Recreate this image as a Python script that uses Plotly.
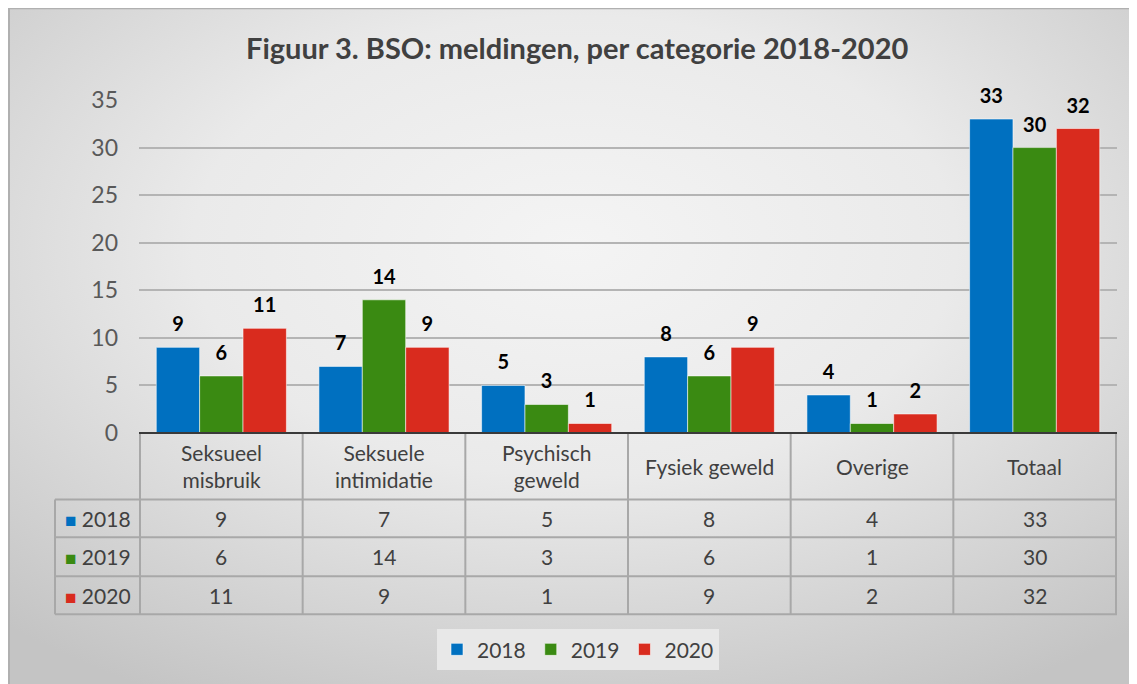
import base64

import plotly.graph_objects as go

categories = ["Seksueel misbruik", "Seksuele intimidatie", "Psychisch geweld",
              "Fysiek geweld", "Overige", "Totaal"]
header_labels = ["Seksueel<br>misbruik", "Seksuele<br>intimidatie", "Psychisch<br>geweld",
                 "Fysiek geweld", "Overige", "Totaal"]
years = ["2018", "2019", "2020"]
values_2018 = [9, 7, 5, 8, 4, 33]
values_2019 = [6, 14, 3, 6, 1, 30]
values_2020 = [11, 9, 1, 9, 2, 32]
y_ticks = [0, 5, 10, 15, 20, 25, 30, 35]

series = [values_2018, values_2019, values_2020]
colors = ["#0070C0", "#3A8A12", "#D92B1E"]

# the page body adds an 8px margin, so the figure is drawn 8px smaller and
# all positions below are given in screen pixels and shifted back
OFF = 8
W, H = 1137 - OFF, 684 - OFF
PX_L, PX_R, PX_T, PX_B = 139, 1117, 100, 433.5
L, R = PX_L - OFF, W - (PX_R - OFF)
T, B = PX_T - OFF, H - (PX_B - OFF)
PW, PH = W - L - R, H - T - B
FONT = "Lato"
TXT = "#404040"
GRID = "#A8A8A8"


def px_x(px):
    return (px - PX_L) / PW


def px_y(py):
    return (PX_B - py) / PH


def txt_font(size, color=TXT):
    return dict(family=FONT, size=size, color=color)


fig = go.Figure()

for name, vals, col in zip(years, series, colors):
    fig.add_trace(go.Bar(
        x=categories, y=vals, name=name,
        marker=dict(color=col, line=dict(color="rgba(255,255,255,0.55)", width=1)),
        hoverinfo="skip",
    ))

# data labels sitting above the bars
for name, vals in zip(years, series):
    fig.add_trace(go.Scatter(
        x=categories, y=vals, mode="markers+text", text=[str(v) for v in vals],
        textposition="top center",
        textfont=dict(family=FONT, size=20, color="#000000", weight="bold"),
        marker=dict(size=16, opacity=0),
        showlegend=False, hoverinfo="skip", cliponaxis=False,
    ))

# radial grey background
svg = (
    '<svg xmlns="http://www.w3.org/2000/svg" width="1128" height="677" preserveAspectRatio="none">'
    '<defs><radialGradient id="g" cx="50%" cy="35%" r="75%">'
    '<stop offset="0" stop-color="#F4F4F4"/><stop offset="0.45" stop-color="#EAEAEA"/>'
    '<stop offset="1" stop-color="#C4C4C4"/></radialGradient></defs>'
    '<rect width="1128" height="677" fill="url(#g)"/></svg>'
)
src = "data:image/svg+xml;base64," + base64.b64encode(svg.encode()).decode()
fig.add_layout_image(dict(
    source=src, xref="paper", yref="paper", x=px_x(9), y=px_y(7),
    sizex=px_x(1140) - px_x(9), sizey=px_y(7) - px_y(690),
    xanchor="left", yanchor="top", sizing="stretch", layer="below",
))

shapes = []
# outer chart border
shapes.append(dict(type="rect", xref="paper", yref="paper", x0=px_x(9), x1=px_x(1145),
                   y0=px_y(695), y1=px_y(8), line=dict(color="#B0B0B0", width=2)))

# data table grid
row_edges = [433.5, 500, 538, 577, 615]
n = len(categories)
for k in range(n + 1):
    shapes.append(dict(type="line", xref="x", yref="paper", x0=k - 0.5, x1=k - 0.5,
                       y0=px_y(433.5), y1=px_y(615), line=dict(color=GRID, width=2)))
shapes.append(dict(type="line", xref="paper", yref="paper", x0=px_x(55), x1=px_x(55),
                   y0=px_y(500), y1=px_y(615), line=dict(color=GRID, width=2)))
for py in row_edges[1:]:
    shapes.append(dict(type="line", xref="paper", yref="paper", x0=px_x(55), x1=1,
                       y0=px_y(py), y1=px_y(py), line=dict(color=GRID, width=2)))
# base line
shapes.append(dict(type="line", xref="paper", yref="paper", x0=0, x1=1,
                   y0=0, y1=0, line=dict(color="#3A3A3A", width=2)))

annotations = [dict(
    text="<b>Figuur 3. BSO: meldingen, per categorie 2018-2020</b>",
    xref="paper", yref="paper", x=px_x(577), y=px_y(47), showarrow=False,
    font=dict(family=FONT, size=29, color=TXT), xanchor="center", yanchor="middle",
)]
for cat, lab in zip(categories, header_labels):
    annotations.append(dict(text=lab, xref="x", yref="paper", x=cat, y=px_y(467),
                            xanchor="center", yanchor="middle", showarrow=False,
                            font=txt_font(21)))
for i, (name, vals, col) in enumerate(zip(years, series, colors)):
    yc = px_y((row_edges[i + 1] + row_edges[i + 2]) / 2)
    annotations.append(dict(
        text=f"<span style='color:{col};font-size:19px'>■</span>&nbsp;{name}",
        xref="paper", yref="paper", x=px_x(133), y=yc, xanchor="right", yanchor="middle",
        showarrow=False, font=txt_font(21),
    ))
    for cat, v in zip(categories, vals):
        annotations.append(dict(text=str(v), xref="x", yref="paper", x=cat, y=yc,
                                xanchor="center", yanchor="middle", showarrow=False,
                                font=txt_font(21)))

fig.update_layout(
    width=W, height=H,
    margin=dict(l=L, r=R, t=T, b=B),
    paper_bgcolor="white", plot_bgcolor="rgba(0,0,0,0)",
    font=dict(family=FONT, color=TXT),
    barmode="group", bargap=0.2, bargroupgap=0.0,
    scattermode="group", scattergap=0.2,
    shapes=shapes, annotations=annotations,
    legend=dict(
        orientation="h", x=px_x(578), y=px_y(630), xanchor="center", yanchor="top",
        bgcolor="#E8E8E8", font=txt_font(21),
        itemwidth=30, traceorder="normal",
    ),
)
fig.update_xaxes(showticklabels=False, showgrid=False, zeroline=False, showline=False)
fig.update_yaxes(
    range=[0, 35], tickvals=y_ticks, showgrid=True, gridcolor="#B4B4B4", gridwidth=1.5,
    zeroline=False, showline=False, ticklabelstandoff=20,
    tickfont=txt_font(23, "#595959"),
)

fig.write_html("out.html")
